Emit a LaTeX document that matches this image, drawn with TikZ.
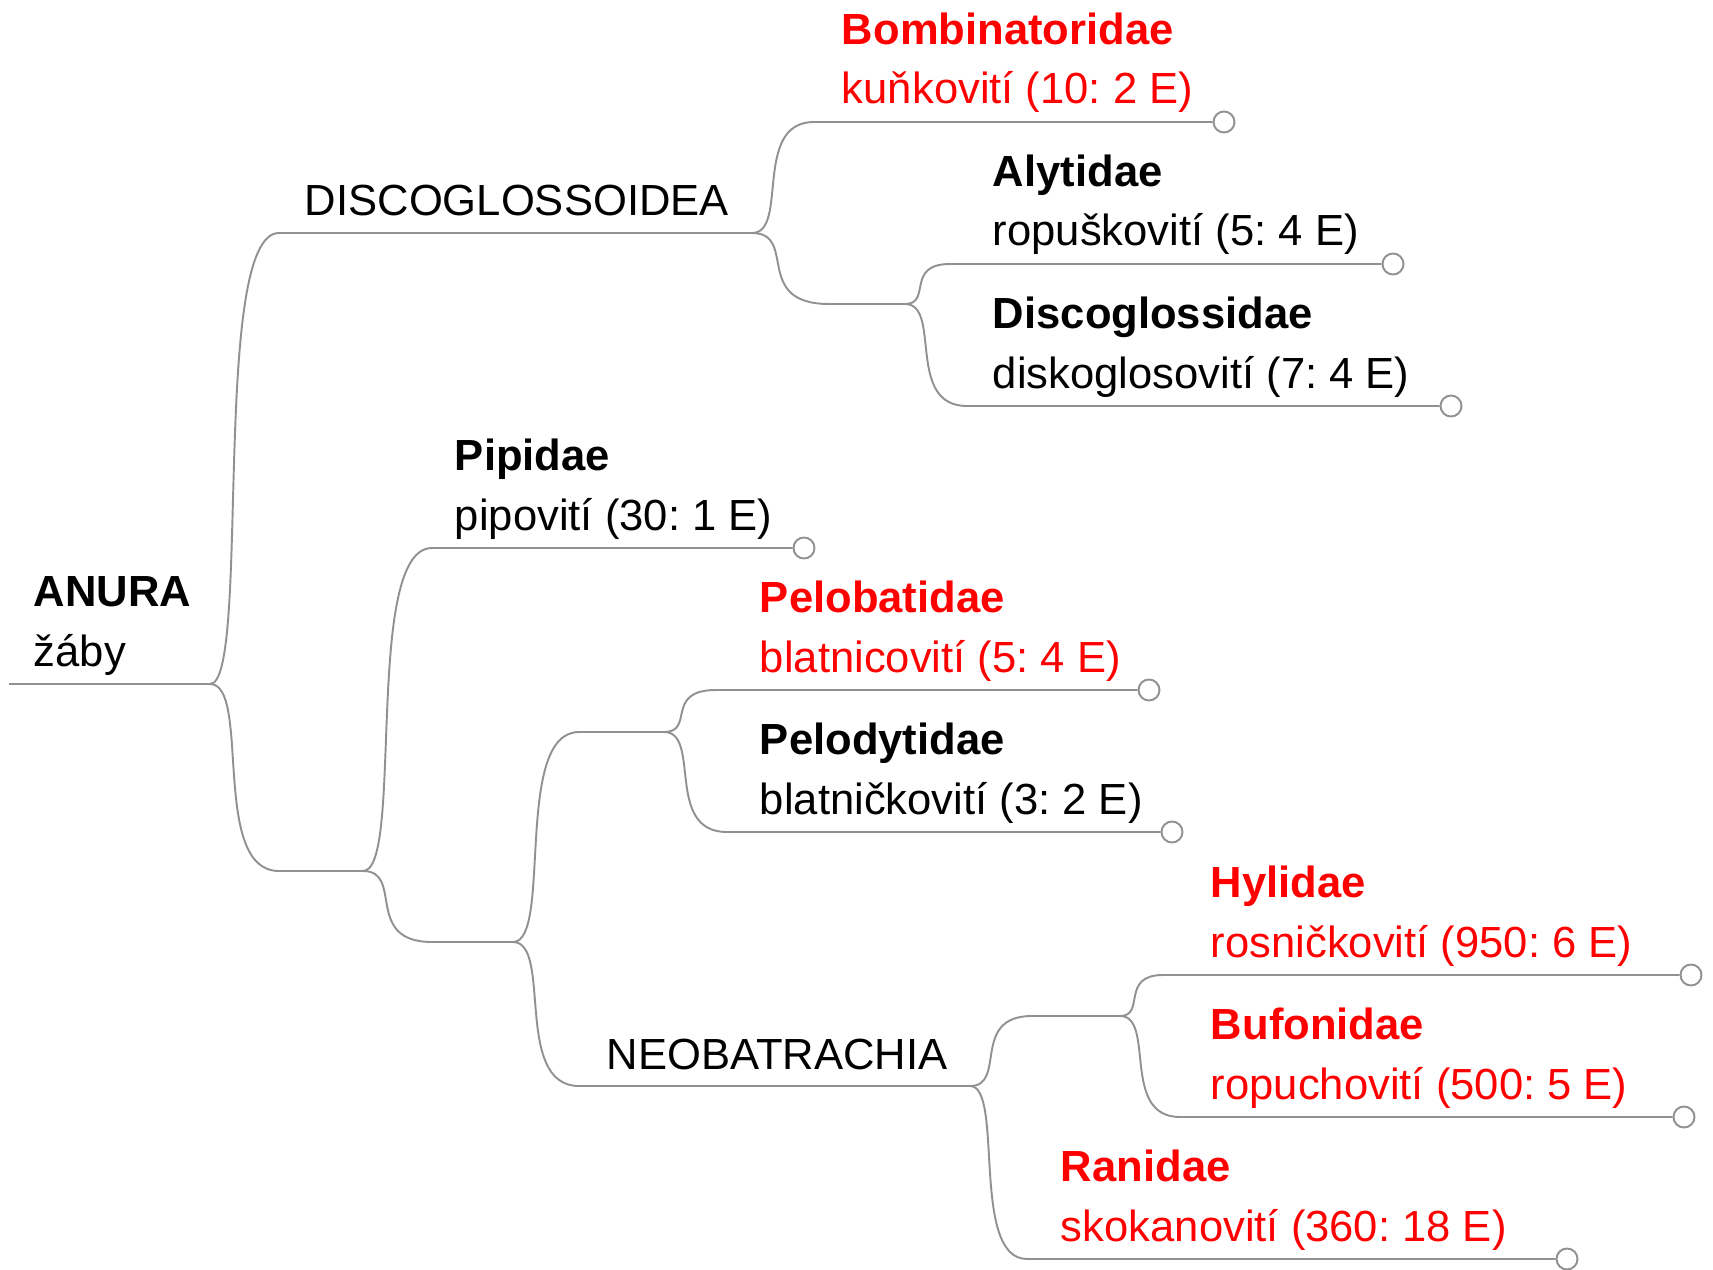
\documentclass[tikz,border=0pt]{standalone}
\usepackage{fontspec}
\setmainfont{Liberation Sans}
\usetikzlibrary{calc}
\definecolor{famred}{RGB}{255,0,0}
\definecolor{edgegray}{RGB}{145,145,145}
\frenchspacing
\begin{document}
\begin{tikzpicture}[x=0.02cm,y=-0.02cm,line width=1.1pt,font=\fontsize{24.8}{33.6}\selectfont,
edge/.style={draw=edgegray},
branch/.style={to path={.. controls ($(\tikztostart)!0.6!(\tikztotarget|-\tikztostart)$) and (\tikztostart|-\tikztotarget) .. (\tikztotarget)}},
taxon/.style={anchor=base west,align=left,inner sep=0pt},
tip/.style={circle,draw=edgegray,fill=white,inner sep=0pt,minimum size=0.42cm}]
\useasboundingbox(0,0)rectangle(1713,1270);
% junctions and line starts
\coordinate(root)at(9,684);
\coordinate(j0)at(210,684);
\coordinate(discost)at(279,233);
\coordinate(j1)at(752,233);
\coordinate(lowst)at(279,871);
\coordinate(j2)at(363,871);
\coordinate(bombst)at(814,122);
\coordinate(j3st)at(829,304);
\coordinate(j3)at(905,304);
\coordinate(alytst)at(950,264);
\coordinate(discgst)at(967,406);
\coordinate(pipist)at(432,548);
\coordinate(j4st)at(432,942);
\coordinate(j4)at(513,942);
\coordinate(j5st)at(579,732);
\coordinate(j5)at(664,732);
\coordinate(neobst)at(579,1086);
\coordinate(j6)at(970,1086);
\coordinate(pelobst)at(716,690);
\coordinate(pelodst)at(727,832);
\coordinate(j7st)at(1032,1016);
\coordinate(j7)at(1120,1016);
\coordinate(ranist)at(1027,1259);
\coordinate(hylist)at(1163,975);
\coordinate(bufost)at(1180,1117);
% end circles
\node[tip](bombend)at(1224,122){};
\node[tip](alytend)at(1393,264){};
\node[tip](discgend)at(1451,406){};
\node[tip](pipiend)at(804,548){};
\node[tip](pelobend)at(1149,690){};
\node[tip](pelodend)at(1172,832){};
\node[tip](hyliend)at(1691,975){};
\node[tip](bufoend)at(1684,1117){};
\node[tip](raniend)at(1567,1259){};
% branches
\draw[edge](root)--(j0);
\draw[edge](j0)to[branch](discost)--(j1);
\draw[edge](j0)to[branch](lowst)--(j2);
\draw[edge](j1)to[branch](bombst)--(bombend);
\draw[edge](j1)to[branch](j3st)--(j3);
\draw[edge](j3)to[branch](alytst)--(alytend);
\draw[edge](j3)to[branch](discgst)--(discgend);
\draw[edge](j2)to[branch](pipist)--(pipiend);
\draw[edge](j2)to[branch](j4st)--(j4);
\draw[edge](j4)to[branch](j5st)--(j5);
\draw[edge](j4)to[branch](neobst)--(j6);
\draw[edge](j5)to[branch](pelobst)--(pelobend);
\draw[edge](j5)to[branch](pelodst)--(pelodend);
\draw[edge](j6)to[branch](j7st)--(j7);
\draw[edge](j6)to[branch](ranist)--(raniend);
\draw[edge](j7)to[branch](hylist)--(hyliend);
\draw[edge](j7)to[branch](bufost)--(bufoend);
% labels
\node[taxon](anura)at(33,666){\textbf{ANURA}\\žáby};
\node[taxon](disco)at(304,216){DISCOGLOSSOIDEA};
\node[taxon,famred](bomb)at(841,104){\textbf{Bombinatoridae}\\kuňkovití (10: 2 E)};
\node[taxon](alyt)at(992,246){\textbf{Alytidae}\\ropuškovití (5: 4 E)};
\node[taxon](discg)at(992,388){\textbf{Discoglossidae}\\diskoglosovití (7: 4 E)};
\node[taxon](pipi)at(454,530){\textbf{Pipidae}\\pipovití (30: 1 E)};
\node[taxon,famred](pelob)at(759,672){\textbf{Pelobatidae}\\blatnicovití (5: 4 E)};
\node[taxon](pelod)at(759,814){\textbf{Pelodytidae}\\blatničkovití (3: 2 E)};
\node[taxon](neob)at(606,1069){NEOBATRACHIA};
\node[taxon,famred](hyli)at(1210,957){\textbf{Hylidae}\\rosničkovití (950: 6 E)};
\node[taxon,famred](bufo)at(1210,1099){\textbf{Bufonidae}\\ropuchovití (500: 5 E)};
\node[taxon,famred](rani)at(1060,1241){\textbf{Ranidae}\\skokanovití (360: 18 E)};
\end{tikzpicture}
\end{document}
